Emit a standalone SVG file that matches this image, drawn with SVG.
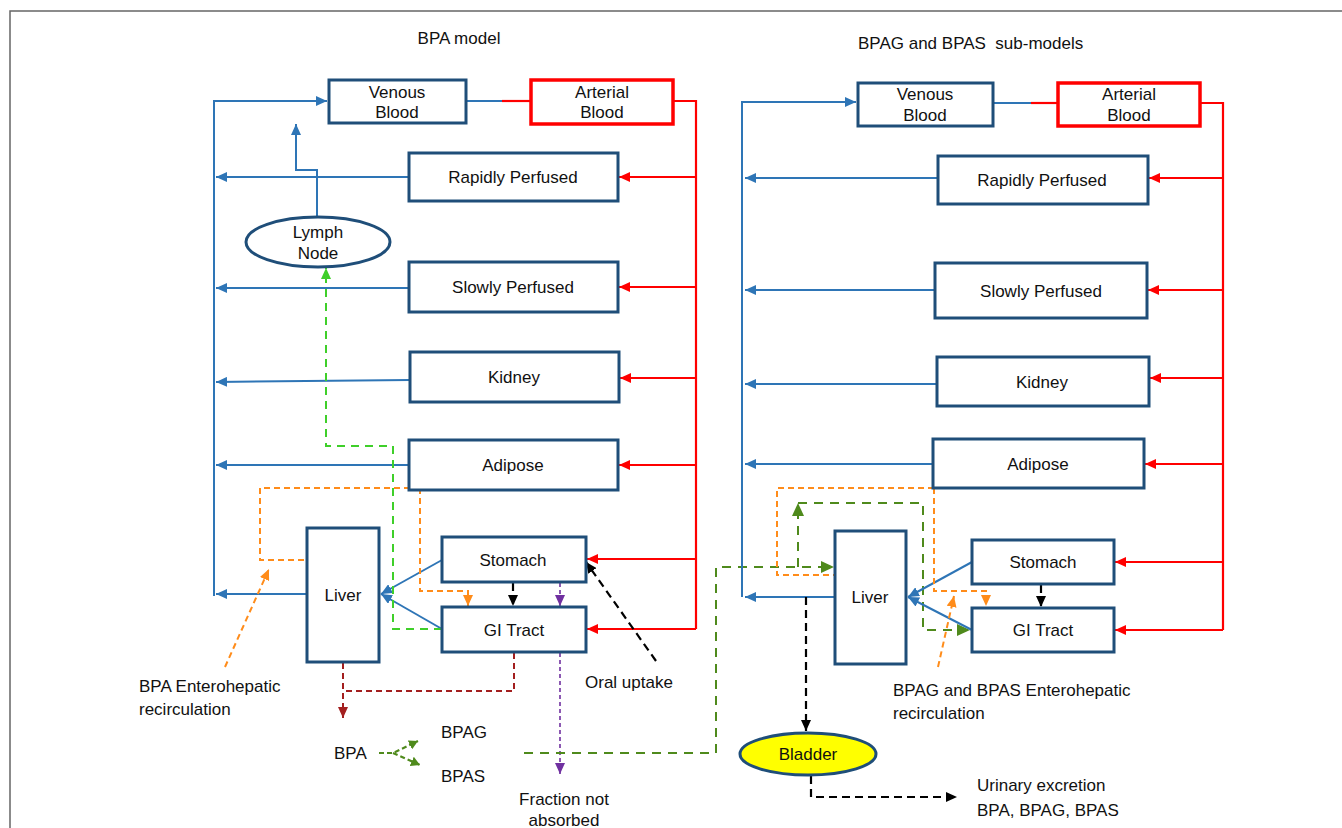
<svg xmlns="http://www.w3.org/2000/svg" width="1342" height="828" viewBox="0 0 1342 828">
<defs>
<style>
.box{fill:#fff;stroke:#1f4e79;stroke-width:3}
.abox{fill:#fff;stroke:#ff0000;stroke-width:3.5}
.t{font-family:"Liberation Sans",Arial,sans-serif;font-size:17px;fill:#111;text-anchor:middle}
.tl{font-family:"Liberation Sans",Arial,sans-serif;font-size:17px;fill:#111;text-anchor:start;white-space:pre}
.b{fill:none;stroke:#2e75b6;stroke-width:2}
.r{fill:none;stroke:#ff0000;stroke-width:2.2}
.k{fill:none;stroke:#000;stroke-width:2.2;stroke-dasharray:8,5}
.o{fill:none;stroke:#ff8c1a;stroke-width:2;stroke-dasharray:6,4}
.lg{fill:none;stroke:#3fcf2a;stroke-width:2;stroke-dasharray:8,6}
.dg{fill:none;stroke:#4f8a1c;stroke-width:2;stroke-dasharray:9,7}
.dgs{fill:none;stroke:#4f8a1c;stroke-width:2.2;stroke-dasharray:5,3}
.dr{fill:none;stroke:#a31f1f;stroke-width:2;stroke-dasharray:6,4}
.p{fill:none;stroke:#7030a0;stroke-width:1.6;stroke-dasharray:4,3}
</style>
<marker id="ab" markerUnits="userSpaceOnUse" markerWidth="12" markerHeight="10" refX="11" refY="5" orient="auto"><path d="M0,0 L11,5 L0,10 z" fill="#2e75b6"/></marker>
<marker id="ar" markerUnits="userSpaceOnUse" markerWidth="12" markerHeight="10" refX="11" refY="5" orient="auto"><path d="M0,0 L11,5 L0,10 z" fill="#ff0000"/></marker>
<marker id="ak" markerUnits="userSpaceOnUse" markerWidth="12" markerHeight="10" refX="11" refY="5" orient="auto"><path d="M0,0 L11,5 L0,10 z" fill="#000"/></marker>
<marker id="ao" markerUnits="userSpaceOnUse" markerWidth="12" markerHeight="10" refX="11" refY="5" orient="auto"><path d="M0,0 L11,5 L0,10 z" fill="#ff8c1a"/></marker>
<marker id="alg" markerUnits="userSpaceOnUse" markerWidth="12" markerHeight="10" refX="11" refY="5" orient="auto"><path d="M0,0 L11,5 L0,10 z" fill="#3fcf2a"/></marker>
<marker id="adg" markerUnits="userSpaceOnUse" markerWidth="14" markerHeight="12" refX="13" refY="6" orient="auto"><path d="M0,0 L13,6 L0,12 z" fill="#4f8a1c"/></marker>
<marker id="adgs" markerUnits="userSpaceOnUse" markerWidth="10" markerHeight="10" refX="9" refY="5" orient="auto"><path d="M0,0 L9,5 L0,10 z" fill="#4f8a1c"/></marker>
<marker id="adr" markerUnits="userSpaceOnUse" markerWidth="12" markerHeight="10" refX="11" refY="5" orient="auto"><path d="M0,0 L11,5 L0,10 z" fill="#a31f1f"/></marker>
<marker id="ap" markerUnits="userSpaceOnUse" markerWidth="12" markerHeight="10" refX="11" refY="5" orient="auto"><path d="M0,0 L11,5 L0,10 z" fill="#7030a0"/></marker>
</defs>
<rect x="0" y="0" width="1342" height="828" fill="#fff"/>
<path d="M10,828 V11 H1342" fill="none" stroke="#666" stroke-width="1.5"/>

<g id="titles">
<text class="t" x="459" y="44">BPA model</text>
<text class="tl" x="858" y="49" xml:space="preserve">BPAG and BPAS  sub-models</text>
</g>

<g id="connectors">
<path class="b" d="M214,596 V101 H327" marker-end="url(#ab)"/>
<path class="b" d="M409,177 H216" marker-end="url(#ab)"/>
<path class="b" d="M409,288 H216" marker-end="url(#ab)"/>
<path class="b" d="M410,380 L216,382" marker-end="url(#ab)"/>
<path class="b" d="M409,465 H216" marker-end="url(#ab)"/>
<path class="b" d="M307,594 H216" marker-end="url(#ab)"/>
<path class="b" d="M466,101 H502"/>
<path class="r" d="M502,101 H531"/>
<path class="r" d="M673,101 H696 V629"/>
<path class="r" d="M696,177 H619" marker-end="url(#ar)"/>
<path class="r" d="M696,287 H619" marker-end="url(#ar)"/>
<path class="r" d="M696,378 H620" marker-end="url(#ar)"/>
<path class="r" d="M696,465 H619" marker-end="url(#ar)"/>
<path class="r" d="M696,559 H587" marker-end="url(#ar)"/>
<path class="r" d="M696,629 H587" marker-end="url(#ar)"/>
<path class="b" d="M317,217 V170 H296 V124" marker-end="url(#ab)"/>
<path class="b" d="M442,560 L381,594" marker-end="url(#ab)"/>
<path class="b" d="M442,629 L381,594" marker-end="url(#ab)"/>
<path class="k" d="M513,583 V606" marker-end="url(#ak)"/>
<path class="p" d="M560,583 V606" marker-end="url(#ap)"/>
<path class="p" d="M560,653 V774" marker-end="url(#ap)"/>
<path class="k" d="M656,661 L586,562" marker-end="url(#ak)"/>
<path class="o" d="M420,488 H260 V560 H307"/>
<path class="o" d="M420,488 V591 H468 V606" marker-end="url(#ao)"/>
<path class="o" d="M225,667 L269,569" marker-end="url(#ao)"/>
<path class="lg" d="M442,629 H393 V446 H326 V268" marker-end="url(#alg)"/>
<path class="dr" d="M514,653 V691 H343"/>
<path class="dr" d="M343,663 V718" marker-end="url(#adr)"/>
<path class="dgs" d="M379,753 H393 L418,741" marker-end="url(#adgs)"/>
<path class="dgs" d="M393,753 L420,765" marker-end="url(#adgs)"/>
<path class="dg" d="M524,753 H716 V567 H834" marker-end="url(#adg)"/>
<path class="dg" d="M798,567 V503" marker-end="url(#adg)"/>
<path class="dg" d="M798,503 H923 V630 H970" marker-end="url(#adg)"/>
<path class="b" d="M742,597 V102 H856" marker-end="url(#ab)"/>
<path class="b" d="M938,178 H745" marker-end="url(#ab)"/>
<path class="b" d="M935,290 H745" marker-end="url(#ab)"/>
<path class="b" d="M937,384 H745" marker-end="url(#ab)"/>
<path class="b" d="M933,464 H745" marker-end="url(#ab)"/>
<path class="b" d="M835,597 H745" marker-end="url(#ab)"/>
<path class="b" d="M993,103 H1031"/>
<path class="r" d="M1031,103 H1058"/>
<path class="r" d="M1200,103 H1223 V630"/>
<path class="r" d="M1223,178 H1149" marker-end="url(#ar)"/>
<path class="r" d="M1223,290 H1148" marker-end="url(#ar)"/>
<path class="r" d="M1223,378 H1150" marker-end="url(#ar)"/>
<path class="r" d="M1223,464 H1145" marker-end="url(#ar)"/>
<path class="r" d="M1223,562 H1115" marker-end="url(#ar)"/>
<path class="r" d="M1223,630 H1115" marker-end="url(#ar)"/>
<path class="b" d="M972,562 L908,597" marker-end="url(#ab)"/>
<path class="b" d="M972,630 L908,597" marker-end="url(#ab)"/>
<path class="k" d="M1041,585 V607" marker-end="url(#ak)"/>
<path class="o" d="M934,488 H777 V575 H835"/>
<path class="o" d="M934,488 V591 H986 V606" marker-end="url(#ao)"/>
<path class="o" d="M938,667 L954,596" marker-end="url(#ao)"/>
<path class="k" d="M806,597 V731" marker-end="url(#ak)"/>
<path class="k" d="M811,776 V797 H957" marker-end="url(#ak)"/>
</g>

<g id="venousL"><rect class="box" x="329" y="80" width="137" height="43"/><text class="t" x="397" y="98">Venous</text><text class="t" x="397" y="118">Blood</text></g>
<g id="arterialL"><rect class="abox" x="531" y="80" width="142" height="44"/><text class="t" x="602" y="98">Arterial</text><text class="t" x="602" y="118">Blood</text></g>
<g id="rapidL"><rect class="box" x="409" y="153" width="209" height="48"/><text class="t" x="513" y="183">Rapidly Perfused</text></g>
<g id="lymph"><ellipse cx="318" cy="242" rx="72" ry="25" fill="#fff" stroke="#1f4e79" stroke-width="3"/><text class="t" x="318" y="238">Lymph</text><text class="t" x="318" y="259">Node</text></g>
<g id="slowL"><rect class="box" x="409" y="262" width="209" height="50"/><text class="t" x="513" y="293">Slowly Perfused</text></g>
<g id="kidneyL"><rect class="box" x="410" y="352" width="209" height="50"/><text class="t" x="514" y="383">Kidney</text></g>
<g id="adiposeL"><rect class="box" x="409" y="440" width="209" height="50"/><text class="t" x="513" y="471">Adipose</text></g>
<g id="liverL"><rect class="box" x="307" y="528" width="72" height="134"/><text class="t" x="343" y="601">Liver</text></g>
<g id="stomachL"><rect class="box" x="442" y="537" width="144" height="45"/><text class="t" x="513" y="566">Stomach</text></g>
<g id="giL"><rect class="box" x="442" y="607" width="144" height="45"/><text class="t" x="514" y="636">GI Tract</text></g>

<g id="venousR"><rect class="box" x="858" y="83" width="135" height="43"/><text class="t" x="925" y="100">Venous</text><text class="t" x="925" y="121">Blood</text></g>
<g id="arterialR"><rect class="abox" x="1058" y="83" width="142" height="43"/><text class="t" x="1129" y="100">Arterial</text><text class="t" x="1129" y="121">Blood</text></g>
<g id="rapidR"><rect class="box" x="938" y="156" width="210" height="48"/><text class="t" x="1042" y="186">Rapidly Perfused</text></g>
<g id="slowR"><rect class="box" x="935" y="263" width="212" height="55"/><text class="t" x="1041" y="297">Slowly Perfused</text></g>
<g id="kidneyR"><rect class="box" x="937" y="357" width="212" height="49"/><text class="t" x="1042" y="388">Kidney</text></g>
<g id="adiposeR"><rect class="box" x="933" y="439" width="211" height="49"/><text class="t" x="1038" y="470">Adipose</text></g>
<g id="liverR"><rect class="box" x="835" y="531" width="71" height="133"/><text class="t" x="870" y="603">Liver</text></g>
<g id="stomachR"><rect class="box" x="972" y="540" width="142" height="44"/><text class="t" x="1043" y="568">Stomach</text></g>
<g id="giR"><rect class="box" x="972" y="608" width="142" height="44"/><text class="t" x="1043" y="636">GI Tract</text></g>
<g id="bladder"><ellipse cx="808" cy="754" rx="68" ry="21" fill="#ffff00" stroke="#1f4e79" stroke-width="3"/><text class="t" x="808" y="760">Bladder</text></g>

<g id="labels">
<text class="tl" x="139" y="692">BPA Enterohepatic</text>
<text class="tl" x="139" y="715">recirculation</text>
<text class="tl" x="585" y="688">Oral uptake</text>
<text class="tl" x="334" y="759">BPA</text>
<text class="tl" x="441" y="738">BPAG</text>
<text class="tl" x="441" y="782">BPAS</text>
<text class="t" x="564" y="805">Fraction not</text>
<text class="t" x="564" y="826">absorbed</text>
<text class="tl" x="893" y="696">BPAG and BPAS Enterohepatic</text>
<text class="tl" x="893" y="719">recirculation</text>
<text class="tl" x="977" y="791">Urinary excretion</text>
<text class="tl" x="977" y="816">BPA, BPAG, BPAS</text>
</g>
</svg>
